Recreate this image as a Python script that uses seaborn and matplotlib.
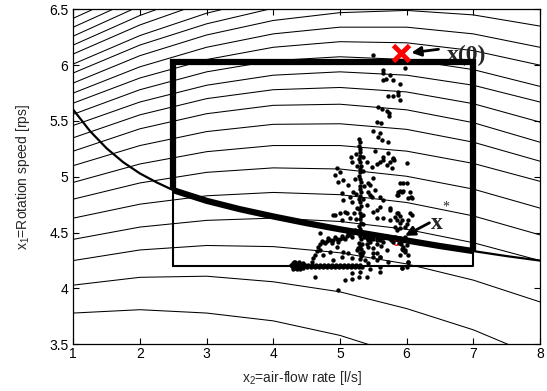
import numpy as np
import pandas as pd
import matplotlib
matplotlib.use('Agg')
import matplotlib.pyplot as plt
import seaborn as sns


x2_grid = [1, 2, 3, 4, 5, 6, 7, 8]

contour_levels = [
    [3.78, 3.81, 3.78, 3.71, 3.58, 3.39, 3.16, 2.87],
    [4.03, 4.10, 4.11, 4.06, 3.97, 3.82, 3.63, 3.38],
    [4.25, 4.345, 4.385, 4.375, 4.32, 4.22, 4.075, 3.88],
    [4.44, 4.55, 4.61, 4.63, 4.60, 4.53, 4.41, 4.25],
    [4.63, 4.755, 4.83, 4.86, 4.84, 4.77, 4.65, 4.48],
    [4.80, 4.945, 5.04, 5.08, 5.07, 5.005, 4.89, 4.72],
    [4.95, 5.115, 5.225, 5.28, 5.28, 5.23, 5.12, 4.96],
    [5.10, 5.28, 5.405, 5.47, 5.475, 5.425, 5.31, 5.14],
    [5.23, 5.43, 5.565, 5.64, 5.65, 5.60, 5.485, 5.31],
    [5.35, 5.555, 5.70, 5.78, 5.80, 5.76, 5.655, 5.49],
    [5.46, 5.67, 5.82, 5.91, 5.94, 5.91, 5.82, 5.67],
    [5.56, 5.78, 5.94, 6.04, 6.075, 6.05, 5.96, 5.81],
    [5.66, 5.885, 6.05, 6.16, 6.21, 6.20, 6.13, 6.00],
    [5.75, 5.985, 6.16, 6.28, 6.34, 6.34, 6.28, 6.16],
    [5.84, 6.085, 6.27, 6.40, 6.47, 6.49, 6.45, 6.35],
    [5.93, 6.18, 6.37, 6.51, 6.59, 6.62, 6.59, 6.50],
    [6.01, 6.265, 6.465, 6.61, 6.70, 6.74, 6.72, 6.65],
    [6.10, 6.36, 6.57, 6.72, 6.82, 6.87, 6.86, 6.80],
    [6.18, 6.445, 6.66, 6.82, 6.93, 6.98, 6.98, 6.93],
    [6.26, 6.53, 6.75, 6.92, 7.03, 7.09, 7.09, 7.05],
    [6.34, 6.61, 6.84, 7.01, 7.13, 7.19, 7.20, 7.16],
    [6.42, 6.69, 6.92, 7.10, 7.22, 7.29, 7.30, 7.27],
]

# constraint boundary: thin outside the box, thick inside it
bound_left_x2 = [1.0, 1.25, 1.5, 1.75, 2.0, 2.25, 2.5]
bound_left_x1 = [5.60, 5.41, 5.255, 5.13, 5.03, 4.95, 4.88]
bound_mid_x2 = [2.5, 3.0, 3.5, 4.0, 4.5, 5.0, 5.5, 6.0, 6.5, 7.0]
bound_mid_x1 = [4.88, 4.785, 4.71, 4.645, 4.585, 4.53, 4.48, 4.43, 4.38, 4.335]
bound_right_x2 = [7.0, 7.5, 8.0]
bound_right_x1 = [4.335, 4.29, 4.25]

# box limits
box_x2 = [2.5, 7.0]
box_x1 = [4.2, 6.03]

x_start = (5.92, 6.105)
x_star = (5.84, 4.415)

# closed-loop samples (x2, x1)
trail = [(5.49, 6.09), (5.97, 5.975), (5.64, 5.957), (5.65, 5.927), (5.75, 5.912), (5.64, 5.867),
         (5.69, 5.876), (5.80, 5.867), (5.90, 5.828), (5.875, 5.756), (5.875, 5.733), (5.725, 5.727),
         (5.79, 5.727), (5.90, 5.688), (5.575, 5.628), (5.625, 5.607), (5.70, 5.59), (5.735, 5.568),
         (5.735, 5.547), (5.55, 5.488), (5.61, 5.479), (5.49, 5.41), (5.60, 5.39), (5.575, 5.36),
         (5.625, 5.33), (5.525, 5.234), (5.725, 5.31), (6.0, 5.127), (5.80, 5.16)]

column = [(5.29, 5.34), (5.295, 5.31), (5.29, 5.28), (5.30, 5.25), (5.295, 5.22), (5.305, 5.19),
          (5.29, 5.16), (5.30, 5.13), (5.31, 5.10), (5.295, 5.07), (5.305, 5.04), (5.29, 5.01),
          (5.30, 4.98), (5.31, 4.95), (5.295, 4.92), (5.305, 4.89), (5.315, 4.86), (5.30, 4.83),
          (5.285, 4.80), (5.30, 4.77), (5.31, 4.74), (5.29, 4.71), (5.30, 4.68), (5.315, 4.65),
          (5.295, 4.62), (5.31, 4.59), (5.29, 4.56), (5.30, 4.53), (5.315, 4.50), (5.295, 4.47),
          (5.31, 4.44), (5.29, 4.41), (5.30, 4.38), (5.315, 4.35), (5.295, 4.32), (5.31, 4.29),
          (5.30, 4.26), (5.24, 5.20), (5.25, 5.10), (5.34, 5.18), (5.35, 5.05), (5.23, 4.98),
          (5.36, 4.92), (5.24, 4.85), (5.35, 4.80), (5.26, 4.72), (5.35, 4.66), (5.24, 4.62),
          (5.34, 4.58), (5.27, 4.50), (5.33, 4.40), (5.27, 4.36), (5.33, 4.31)]

cloud = [(5.16, 5.18), (5.175, 5.136), (4.95, 5.076), (5.0, 5.046), (4.925, 5.016), (5.05, 4.972),
         (5.125, 4.927), (5.20, 4.867), (5.15, 4.823), (4.925, 4.658), (5.0, 4.673), (5.075, 4.688),
         (5.025, 4.614), (5.15, 4.628), (5.40, 5.136), (5.475, 5.085), (5.55, 5.112), (5.60, 5.136),
         (5.65, 5.15), (5.70, 5.106), (5.75, 5.136), (5.775, 5.076), (5.81, 5.15), (5.50, 4.987),
         (5.45, 4.927), (5.525, 4.882), (5.425, 4.867), (5.475, 4.823), (5.60, 4.733), (5.40, 4.748),
         (5.50, 4.688), (5.55, 4.628), (5.65, 4.628), (5.75, 4.614), (5.65, 5.18), (5.725, 5.21),
         (5.80, 5.166), (5.90, 4.942), (5.95, 4.948), (6.0, 4.948), (5.875, 4.867), (5.90, 4.875),
         (5.925, 4.867), (5.95, 4.87), (5.85, 4.837), (6.05, 4.867), (6.025, 4.808), (6.06, 4.82),
         (5.60, 4.823), (5.65, 4.793), (5.75, 4.718), (5.875, 4.673), (5.90, 4.645), (5.925, 4.613),
         (5.85, 4.613), (5.825, 4.64), (6.05, 4.673), (6.025, 4.613), (6.0, 4.58), (5.825, 4.55),
         (5.85, 4.52), (5.90, 4.54), (4.975, 4.957), (5.025, 4.853), (5.05, 4.793), (5.10, 4.674),
         (5.175, 4.778), (5.21, 4.674), (4.90, 4.659), (4.70, 4.494), (5.425, 4.942), (5.45, 4.838),
         (5.55, 4.703), (5.75, 4.703), (5.875, 4.838), (6.075, 4.808), (5.85, 4.674), (5.90, 4.584),
         (5.975, 4.554), (6.075, 4.659)]

near_star = [(5.70, 4.47), (5.75, 4.46), (5.80, 4.45), (5.85, 4.44), (5.90, 4.45), (5.95, 4.43),
             (5.80, 4.42), (5.88, 4.41), (5.92, 4.40), (5.77, 4.43), (5.83, 4.46), (5.97, 4.46),
             (5.95, 4.375), (5.975, 4.33), (5.925, 4.35), (6.025, 4.30), (6.0, 4.196), (5.925, 4.181),
             (5.6, 4.285), (6.025, 4.24), (6.0, 4.39), (5.98, 4.345), (5.40, 4.45), (5.45, 4.44),
             (5.50, 4.44), (5.55, 4.43), (5.60, 4.43), (5.65, 4.42), (5.45, 4.47), (5.55, 4.46),
             (5.65, 4.45), (5.36, 4.46), (5.42, 4.43)]

zigzag = [(4.575, 4.241), (4.60, 4.27), (4.625, 4.30), (4.65, 4.335), (4.675, 4.37), (4.70, 4.40),
          (4.725, 4.429), (4.75, 4.417), (4.775, 4.405), (4.80, 4.428), (4.825, 4.45), (4.85, 4.43),
          (4.875, 4.411), (4.90, 4.435), (4.925, 4.459), (4.95, 4.44), (4.975, 4.42), (5.0, 4.445),
          (5.025, 4.47), (5.05, 4.455), (5.075, 4.44), (5.10, 4.467), (5.125, 4.494), (5.15, 4.48),
          (5.175, 4.465), (5.20, 4.495), (5.225, 4.524)]

between = [(4.85, 4.33), (4.95, 4.375), (5.05, 4.33), (5.025, 4.285), (5.125, 4.315), (5.175, 4.27),
           (5.25, 4.345), (5.35, 4.33), (5.425, 4.375), (5.50, 4.315), (5.375, 4.256), (5.325, 4.196),
           (5.425, 4.226), (5.55, 4.256), (5.60, 4.285), (5.70, 4.345), (4.75, 4.30), (4.90, 4.256),
           (4.70, 4.345), (5.40, 4.40), (5.45, 4.42), (5.55, 4.40), (5.62, 4.38), (5.50, 4.36)]

band = [(4.28, 4.20), (4.29, 4.23), (4.29, 4.17), (4.31, 4.21), (4.32, 4.18), (4.33, 4.24),
        (4.34, 4.20), (4.35, 4.17), (4.36, 4.22), (4.38, 4.19), (4.39, 4.24), (4.40, 4.17),
        (4.41, 4.21), (4.43, 4.19), (4.44, 4.23), (4.46, 4.20), (4.48, 4.21), (4.50, 4.19),
        (4.52, 4.21), (4.54, 4.20), (4.56, 4.19), (4.58, 4.21), (4.60, 4.20), (4.62, 4.19),
        (4.64, 4.21), (4.66, 4.20), (4.68, 4.19), (4.70, 4.21), (4.72, 4.20), (4.74, 4.19),
        (4.76, 4.21), (4.78, 4.20), (4.80, 4.19), (4.82, 4.21), (4.84, 4.20), (4.86, 4.19),
        (4.88, 4.21), (4.90, 4.20), (4.92, 4.19), (4.94, 4.21), (4.96, 4.20), (4.98, 4.19),
        (5.00, 4.21), (5.02, 4.20), (5.04, 4.19), (5.06, 4.21), (5.08, 4.20), (5.10, 4.19),
        (5.12, 4.21), (5.14, 4.20), (5.16, 4.19), (5.18, 4.21), (5.20, 4.20), (5.22, 4.19),
        (5.24, 4.21), (5.26, 4.20), (5.28, 4.19), (5.30, 4.21), (4.30, 4.19), (4.37, 4.21),
        (4.42, 4.22), (4.45, 4.18), (4.27, 4.21), (4.31, 4.235)]

below = [(4.625, 4.106), (5.075, 4.076), (5.175, 4.082), (5.175, 4.136), (5.30, 4.151), (5.40, 4.106),
         (5.45, 4.172), (5.60, 4.151), (5.725, 4.24), (5.925, 4.18), (4.975, 3.987), (5.55, 4.315),
         (5.50, 4.285), (5.90, 4.30), (6.025, 4.24), (5.95, 4.345), (5.28, 4.10), (5.60, 4.196)]


# build frames

rows = []
for i, lev in enumerate(contour_levels):
    for xv, yv in zip(x2_grid, lev):
        rows.append((i, xv, yv))
df_cont = pd.DataFrame(rows, columns=['level', 'x2', 'x1'])

pts = trail + column + cloud + near_star + zigzag + between + band + below
df_pts = pd.DataFrame(pts, columns=['x2', 'x1'])


# plot

sns.set_style('ticks', {'xtick.direction': 'in', 'ytick.direction': 'in'})
plt.rcParams['font.family'] = ['Liberation Sans', 'DejaVu Sans']
plt.rcParams['mathtext.fontset'] = 'custom'
plt.rcParams['mathtext.rm'] = 'Liberation Sans'
plt.rcParams['mathtext.it'] = 'Liberation Sans:italic'

fig = plt.figure(figsize=(5.47, 3.91), dpi=100)
ax = fig.add_axes([0.134, 0.1194, 0.853, 0.8568])

sns.lineplot(data=df_cont, x='x2', y='x1', units='level', estimator=None, sort=False,
             color='k', lw=0.75, ax=ax, legend=False)

# box (thin), then the thick part above the boundary
ax.plot([box_x2[0], box_x2[1], box_x2[1], box_x2[0], box_x2[0]],
        [box_x1[0], box_x1[0], box_x1[1], box_x1[1], box_x1[0]], color='k', lw=1.5, zorder=3)
ax.plot([box_x2[0], box_x2[0], box_x2[1], box_x2[1]],
        [bound_mid_x1[0], box_x1[1], box_x1[1], bound_mid_x1[-1]],
        color='k', lw=4.5, solid_capstyle='butt', solid_joinstyle='miter', zorder=4)

ax.plot(bound_left_x2, bound_left_x1, color='k', lw=1.6, zorder=3)
ax.plot(bound_mid_x2, bound_mid_x1, color='k', lw=4.5, solid_capstyle='butt', zorder=4)
ax.plot(bound_right_x2, bound_right_x1, color='k', lw=1.6, zorder=3)

ax.plot(x_star[0], x_star[1], marker='o', ms=4, mfc='none', mec='red', mew=1, zorder=4)

sns.scatterplot(data=df_pts, x='x2', y='x1', s=10, color='k', linewidth=0, ax=ax, zorder=5)

ax.plot(x_start[0], x_start[1], marker='x', ms=11, mew=3.5, color='red', zorder=6)

# annotations
ax.annotate('', xy=(6.03, 6.108), xytext=(6.52, 6.145),
            arrowprops=dict(arrowstyle='-|>', color='k', lw=2, mutation_scale=14), zorder=6)
ax.text(6.60, 6.09, 'x(0)', family='Liberation Serif', fontweight='bold', fontsize=17,
        ha='left', va='center')
ax.annotate('', xy=(5.94, 4.46), xytext=(6.38, 4.60),
            arrowprops=dict(arrowstyle='-|>', color='k', lw=2, mutation_scale=14), zorder=6)
ax.text(6.37, 4.53, 'x', family='Liberation Serif', fontweight='bold', fontsize=17,
        ha='left', va='baseline')
ax.text(6.53, 4.70, '*', family='Liberation Serif', fontsize=10, ha='left', va='baseline')

ax.set_xlim(1, 8)
ax.set_ylim(3.5, 6.5)
ax.set_xticks([1, 2, 3, 4, 5, 6, 7, 8])
ax.set_yticks([3.5, 4, 4.5, 5, 5.5, 6, 6.5])
ax.set_yticklabels(['3.5', '4', '4.5', '5', '5.5', '6', '6.5'])
ax.tick_params(top=True, right=True, labelsize=10, length=4, width=0.8, colors='k')
ax.tick_params(axis='x', pad=2)

for sp in ax.spines.values():
    sp.set_linewidth(0.9)
    sp.set_color('k')

ax.set_xlabel('x$_2$=air-flow rate [l/s]', fontsize=10)
ax.set_ylabel('x$_1$=Rotation speed [rps]', fontsize=10)
ax.xaxis.set_label_coords(0.49, -0.075)
ax.yaxis.set_label_coords(-0.088, 0.5)

fig.savefig('out.png', dpi=100)
